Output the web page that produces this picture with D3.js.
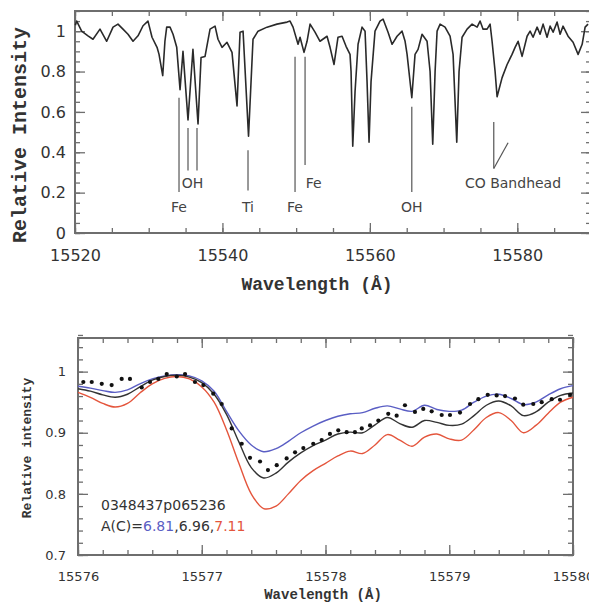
<!DOCTYPE html>
<html><head><meta charset="utf-8">
<script src="https://cdn.jsdelivr.net/npm/d3@7"></script>
<style>
html,body{margin:0;padding:0;background:#fff;}
svg{display:block;}
</style></head>
<body>
<svg id="chart" width="589" height="606"></svg>
<script>
// ---------- DATA ----------
// Top panel: observed spectrum
const topWavelength = [15520.05,15520.23,15520.9,15521.76,15522.44,15523.39,15524.3,15525.16,15525.83,15526.51,15527.19,15527.87,15528.55,15529.23,15529.9,15530.45,15531.13,15531.4,15531.9,15532.2,15532.44,15532.89,15533.3,15533.8,15534.25,15534.65,15535.33,15536.0,15536.69,15537.1,15537.64,15538.32,15539.0,15539.4,15539.95,15540.62,15541.3,15541.98,15542.39,15542.8,15543.54,15544.15,15544.83,15546.05,15547.4,15548.77,15549.17,15549.58,15550.26,15550.53,15551.07,15551.48,15551.89,15552.56,15553.24,15554.19,15554.6,15555.14,15555.68,15556.23,15556.77,15557.31,15557.45,15557.68,15557.99,15558.4,15558.94,15559.35,15559.62,15559.89,15560.16,15560.7,15561.38,15561.79,15562.47,15563.01,15563.69,15564.37,15564.78,15565.05,15565.69,15566.13,15566.54,15567.08,15567.76,15568.17,15568.53,15568.85,15569.12,15569.53,15570.2,15570.88,15571.29,15571.79,15572.1,15572.51,15573.19,15573.87,15574.55,15574.95,15575.36,15575.9,15576.31,15576.58,15576.99,15577.26,15577.94,15578.62,15579.29,15579.7,15580.11,15580.65,15581.33,15581.74,15582.14,15582.69,15583.09,15583.5,15584.04,15584.45,15584.86,15585.4,15585.81,15586.21,15586.89,15587.57,15588.25,15588.8,15589.2,15589.6];
const topIntensity = [1.03,1.05,1.0,0.977,0.96,1.01,0.95,1.02,1.035,1.01,0.985,0.95,0.977,1.027,1.05,0.97,0.92,0.885,0.78,0.95,1.02,1.02,0.985,0.92,0.71,0.9,0.56,0.91,0.54,0.87,0.875,1.01,1.025,0.96,0.92,0.945,0.895,0.63,0.995,1.0,0.48,0.96,1.0,1.02,1.035,1.045,1.05,1.02,0.935,0.97,0.895,0.95,1.035,0.995,0.95,0.975,0.92,0.835,0.97,0.975,0.925,0.885,0.8,0.43,0.7,0.935,1.02,1.0,0.75,0.45,0.75,1.0,1.05,1.06,0.995,0.935,0.975,1.0,0.95,0.885,0.67,0.885,0.91,0.985,0.95,0.8,0.44,0.8,1.0,1.035,1.02,0.975,0.885,0.45,0.8,0.97,1.01,1.035,1.02,1.05,1.01,1.01,1.035,0.95,0.8,0.675,0.77,0.835,0.885,0.92,0.95,0.875,0.975,1.0,0.97,1.02,0.985,1.035,0.97,1.025,0.995,1.045,0.985,1.025,0.975,0.945,0.885,0.935,1.02,1.035];

// Top panel: line identifications
const markLabels   = ["Fe", "OH", "Ti", "Fe", "Fe", "OH", "CO Bandhead"];
const markLambdas  = [[15534.11], [15535.33, 15536.55], [15543.47], [15549.85], [15551.21], [15565.69], [15576.81]];
const markTop      = [0.67, 0.52, 0.41, 0.873, 0.873, 0.625, 0.55];
const markBottom   = [0.203, 0.31, 0.21, 0.203, 0.337, 0.203, 0.32];
const markLabelX   = [15534.11, 15535.95, 15543.47, 15549.85, 15551.3, 15565.69, 15572.9];
const markLabelY   = [0.104, 0.223, 0.104, 0.104, 0.223, 0.104, 0.223];
const markAnchor   = ["middle", "middle", "middle", "middle", "start", "middle", "start"];
const coSlantEnd   = [15578.75, 0.447];

const topXTicks = [15520, 15540, 15560, 15580];
const topXTickLabels = ["15520", "15540", "15560", "15580"];
const topYTicks = [0, 0.2, 0.4, 0.6, 0.8, 1];
const topYTickLabels = ["0", "0.2", "0.4", "0.6", "0.8", "1"];

// Bottom panel: observed points
const obsWavelength = [15576.043,15576.111,15576.192,15576.272,15576.353,15576.42,15576.515,15576.582,15576.649,15576.717,15576.798,15576.865,15576.945,15577.013,15577.093,15577.161,15577.242,15577.323,15577.39,15577.471,15577.535,15577.606,15577.686,15577.754,15577.821,15577.901,15577.969,15578.036,15578.103,15578.171,15578.238,15578.293,15578.36,15578.427,15578.507,15578.575,15578.642,15578.723,15578.79,15578.858,15578.939,15579.006,15579.087,15579.168,15579.235,15579.311,15579.383,15579.451,15579.531,15579.598,15579.679,15579.747,15579.828,15579.895,15579.976];
const obsIntensity = [0.983,0.983,0.98,0.978,0.988,0.988,0.974,0.983,0.988,0.996,0.992,0.996,0.983,0.978,0.964,0.947,0.907,0.882,0.859,0.853,0.839,0.847,0.858,0.868,0.875,0.882,0.888,0.898,0.904,0.901,0.901,0.907,0.912,0.92,0.931,0.928,0.945,0.934,0.939,0.935,0.929,0.929,0.933,0.947,0.955,0.962,0.961,0.96,0.956,0.946,0.947,0.95,0.955,0.954,0.962];

// Bottom panel: synthetic spectra, A(C) = 6.81, 6.96, 7.11
const modelWavelength = [15576.0,15576.1,15576.2,15576.3,15576.4,15576.5,15576.6,15576.7,15576.8,15576.9,15577.0,15577.1,15577.2,15577.3,15577.4,15577.5,15577.6,15577.7,15577.8,15577.9,15578.0,15578.1,15578.2,15578.3,15578.4,15578.5,15578.6,15578.7,15578.8,15578.9,15579.0,15579.1,15579.2,15579.3,15579.4,15579.5,15579.6,15579.7,15579.8,15579.9,15580.0];
const modelLow  = [0.976,0.973,0.969,0.966,0.97,0.98,0.988,0.993,0.995,0.993,0.985,0.968,0.935,0.903,0.88,0.869,0.874,0.886,0.9,0.911,0.92,0.927,0.931,0.933,0.94,0.944,0.939,0.935,0.945,0.938,0.935,0.937,0.95,0.96,0.963,0.956,0.946,0.95,0.962,0.972,0.977];
const modelMid  = [0.972,0.968,0.962,0.958,0.963,0.975,0.986,0.992,0.994,0.991,0.982,0.963,0.93,0.885,0.843,0.826,0.834,0.852,0.867,0.879,0.888,0.898,0.901,0.9,0.913,0.925,0.915,0.909,0.92,0.917,0.912,0.914,0.928,0.945,0.952,0.944,0.928,0.934,0.95,0.961,0.965];
const modelHigh = [0.966,0.958,0.948,0.942,0.948,0.965,0.98,0.989,0.992,0.988,0.975,0.95,0.905,0.85,0.8,0.776,0.78,0.8,0.822,0.838,0.85,0.862,0.87,0.866,0.88,0.897,0.888,0.878,0.893,0.898,0.89,0.888,0.905,0.925,0.933,0.92,0.9,0.912,0.932,0.95,0.958];
const abundanceLabels = ["6.81", "6.96", "7.11"];
const starName = "0348437p065236";

const botXTicks = [15576, 15577, 15578, 15579, 15580];
const botXTickLabels = ["15576", "15577", "15578", "15579", "15580"];
const botYTicks = [0.7, 0.8, 0.9, 1];
const botYTickLabels = ["0.7", "0.8", "0.9", "1"];

// ---------- DRAWING ----------
const svg = d3.select("#chart");
const frameColor = "#6e6e6e";
const sans = "'DejaVu Sans', sans-serif";
const mono = "'Liberation Mono', 'DejaVu Sans Mono', monospace";

function range(a, b, step) {
  const out = [];
  const n = Math.round((b - a) / step);
  for (let i = 0; i <= n; i++) out.push(+(a + i * step).toFixed(6));
  return out;
}

function framedAxes(g, x, y, opt) {
  const [x0, x1] = x.range();
  const [y0, y1] = y.range();
  const minorX = range(x.domain()[0], x.domain()[1], opt.minorX);
  const minorY = range(y.domain()[0], y.domain()[1] - 1e-9, opt.minorY);
  const style = s => s.call(a => a.select(".domain").remove())
                      .call(a => a.selectAll("line").attr("stroke", frameColor).attr("stroke-width", 1.3));
  g.append("g").attr("transform", `translate(0,${y0})`)
    .call(d3.axisBottom(x).tickValues(minorX).tickSize(-opt.minorLen).tickFormat("")).call(style);
  g.append("g").attr("transform", `translate(0,${y1})`)
    .call(d3.axisTop(x).tickValues(minorX).tickSize(-opt.minorLen).tickFormat("")).call(style);
  g.append("g").attr("transform", `translate(${x0},0)`)
    .call(d3.axisLeft(y).tickValues(minorY).tickSize(-opt.minorLen).tickFormat("")).call(style);
  g.append("g").attr("transform", `translate(${x1},0)`)
    .call(d3.axisRight(y).tickValues(minorY).tickSize(-opt.minorLen).tickFormat("")).call(style);
  const bx = g.append("g").attr("transform", `translate(0,${y0})`)
    .call(d3.axisBottom(x).tickValues(opt.xTicks).tickSize(-opt.majorLen).tickPadding(opt.xPad)
      .tickFormat((d, i) => opt.xLabels[i])).call(style);
  g.append("g").attr("transform", `translate(0,${y1})`)
    .call(d3.axisTop(x).tickValues(opt.xTicks).tickSize(-opt.majorLen).tickFormat("")).call(style);
  const ly = g.append("g").attr("transform", `translate(${x0},0)`)
    .call(d3.axisLeft(y).tickValues(opt.yTicks).tickSize(-opt.majorLen).tickPadding(opt.yPad)
      .tickFormat((d, i) => opt.yLabels[i])).call(style);
  g.append("g").attr("transform", `translate(${x1},0)`)
    .call(d3.axisRight(y).tickValues(opt.yTicks).tickSize(-opt.majorLen).tickFormat("")).call(style);
  [bx, ly].forEach(a => a.selectAll("text")
    .attr("font-family", sans).attr("font-size", opt.fontSize).attr("fill", "#333"));
  g.append("rect").attr("x", x0).attr("y", y1).attr("width", x1 - x0).attr("height", y0 - y1)
    .attr("fill", "none").attr("stroke", frameColor).attr("stroke-width", 2);
}

// ===== Top panel =====
const xT = d3.scaleLinear().domain([15520, 15590]).range([75, 591]);
const yT = d3.scaleLinear().domain([0, 1.1]).range([233, 11]);
const gT = svg.append("g");

framedAxes(gT, xT, yT, {
  minorX: 5, minorY: 0.05, minorLen: 5, majorLen: 10,
  xTicks: topXTicks, xLabels: topXTickLabels, yTicks: topYTicks, yLabels: topYTickLabels,
  xPad: 17, yPad: 9, fontSize: 16
});

const topData = topWavelength.map((w, i) => [w, topIntensity[i]]);
gT.append("path").datum(topData)
  .attr("fill", "none").attr("stroke", "#2a2a2a").attr("stroke-width", 1.6)
  .attr("stroke-linejoin", "round")
  .attr("d", d3.line().x(d => xT(d[0])).y(d => yT(d[1])).curve(d3.curveLinear));

markLabels.forEach((lab, i) => {
  markLambdas[i].forEach(w => {
    gT.append("line").attr("x1", xT(w)).attr("x2", xT(w))
      .attr("y1", yT(markTop[i])).attr("y2", yT(markBottom[i]))
      .attr("stroke", "#555").attr("stroke-width", 1.2);
  });
  gT.append("text").attr("x", xT(markLabelX[i])).attr("y", yT(markLabelY[i]))
    .attr("text-anchor", markAnchor[i]).attr("font-family", sans).attr("font-size", 14)
    .attr("fill", "#444").text(lab);
});
gT.append("line")
  .attr("x1", xT(markLambdas[6][0])).attr("y1", yT(markBottom[6]))
  .attr("x2", xT(coSlantEnd[0])).attr("y2", yT(coSlantEnd[1]))
  .attr("stroke", "#555").attr("stroke-width", 1.2);

svg.append("text").attr("x", 317).attr("y", 290).attr("text-anchor", "middle")
  .attr("font-family", mono).attr("font-weight", "bold").attr("font-size", 18).attr("fill", "#333")
  .text("Wavelength (Å)");
svg.append("text").attr("transform", "translate(26,135) rotate(-90)").attr("text-anchor", "middle")
  .attr("font-family", mono).attr("font-weight", "bold").attr("font-size", 20).attr("fill", "#333")
  .text("Relative Intensity");

// ===== Bottom panel =====
const xB = d3.scaleLinear().domain([15576, 15580]).range([78, 573]);
const yB = d3.scaleLinear().domain([0.7, 1.055]).range([555, 338]);
const gB = svg.append("g");

framedAxes(gB, xB, yB, {
  minorX: 0.2, minorY: 0.02, minorLen: 5, majorLen: 10,
  xTicks: botXTicks, xLabels: botXTickLabels, yTicks: botYTicks, yLabels: botYTickLabels,
  xPad: 17, yPad: 12, fontSize: 13
});

const modelColors = ["#5a5ec4", "#333333", "#e4553c"];
[modelLow, modelMid, modelHigh].forEach((vals, k) => {
  const data = modelWavelength.map((w, i) => [w, vals[i]]);
  gB.append("path").datum(data)
    .attr("fill", "none").attr("stroke", modelColors[k]).attr("stroke-width", 1.4)
    .attr("d", d3.line().x(d => xB(d[0])).y(d => yB(d[1])).curve(d3.curveCatmullRom.alpha(0.5)));
});

gB.selectAll("circle.obs").data(obsWavelength.map((w, i) => [w, obsIntensity[i]]))
  .join("circle").attr("class", "obs")
  .attr("cx", d => xB(d[0])).attr("cy", d => yB(d[1])).attr("r", 2.1).attr("fill", "#111");

gB.append("text").attr("x", 101).attr("y", 510).attr("font-family", sans).attr("font-size", 14)
  .attr("fill", "#333").text(starName);
const ac = gB.append("text").attr("x", 101).attr("y", 531).attr("font-family", sans)
  .attr("font-size", 14).attr("fill", "#333");
ac.append("tspan").text("A(C)=");
ac.append("tspan").attr("fill", modelColors[0]).text(abundanceLabels[0]);
ac.append("tspan").text("," + abundanceLabels[1] + ",");
ac.append("tspan").attr("fill", modelColors[2]).text(abundanceLabels[2]);

svg.append("text").attr("x", 323).attr("y", 599).attr("text-anchor", "middle")
  .attr("font-family", mono).attr("font-weight", "bold").attr("font-size", 14).attr("fill", "#333")
  .text("Wavelength (Å)");
svg.append("text").attr("transform", "translate(31,448) rotate(-90)").attr("text-anchor", "middle")
  .attr("font-family", mono).attr("font-weight", "bold").attr("font-size", 13).attr("fill", "#333")
  .text("Relative intensity");
</script>
</body></html>
